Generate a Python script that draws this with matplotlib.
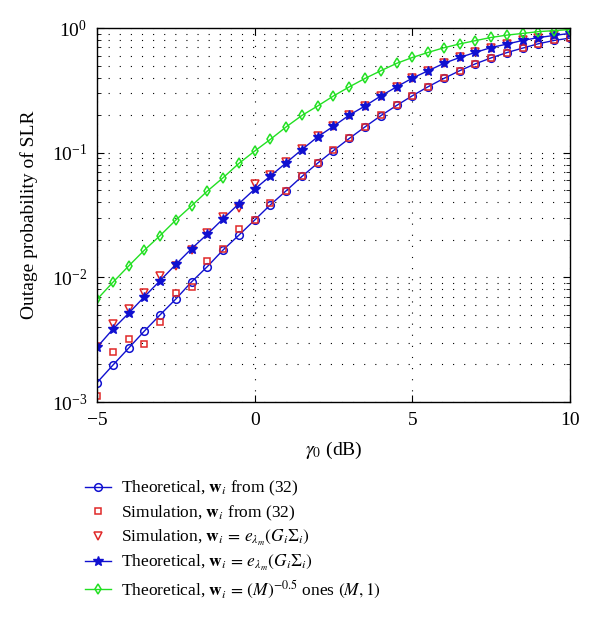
import numpy as np
import matplotlib
matplotlib.use('Agg')
import matplotlib.pyplot as plt
from matplotlib.ticker import LogLocator, FixedLocator

plt.rcParams['font.family'] = ['Liberation Serif', 'DejaVu Serif']
plt.rcParams['mathtext.fontset'] = 'stix'
plt.rcParams['font.size'] = 13

# SNR grid (dB)
gamma0 = [-5, -4.5, -4, -3.5, -3, -2.5, -2, -1.5, -1, -0.5, 0, 0.5, 1, 1.5, 2, 2.5,
          3, 3.5, 4, 4.5, 5, 5.5, 6, 6.5, 7, 7.5, 8, 8.5, 9, 9.5, 10]

# theoretical, w_i from (32)
theo_32 = [1.43e-3, 1.97e-3, 2.70e-3, 3.70e-3, 5.00e-3, 6.70e-3, 9.20e-3, 1.22e-2,
           1.66e-2, 2.18e-2, 2.88e-2, 3.82e-2, 4.95e-2, 6.45e-2, 8.25e-2, 0.104,
           0.130, 0.161, 0.198, 0.239, 0.286, 0.338, 0.394, 0.454, 0.516, 0.576,
           0.635, 0.690, 0.748, 0.795, 0.830]

# simulation, w_i from (32)
sim_32 = [1.12e-3, 2.53e-3, 3.20e-3, 2.92e-3, 4.41e-3, 7.45e-3, 8.30e-3, 1.36e-2,
          1.69e-2, 2.45e-2, 2.88e-2, 3.96e-2, 4.90e-2, 6.50e-2, 8.30e-2, 0.105,
          0.131, 0.160, 0.199, 0.240, 0.287, 0.337, 0.395, 0.455, 0.515, 0.577,
          0.636, 0.688, 0.750, 0.797, 0.832]

# simulation, w_i = e_lambda_m
sim_eig = [2.75e-3, 4.20e-3, 5.53e-3, 7.45e-3, 1.02e-2, 1.23e-2, 1.66e-2, 2.25e-2,
           3.06e-2, 3.57e-2, 5.60e-2, 6.60e-2, 8.40e-2, 0.107, 0.135, 0.163,
           0.201, 0.238, 0.286, 0.338, 0.397, 0.455, 0.520, 0.582, 0.638, 0.697,
           0.745, 0.795, 0.838, 0.872, 0.905]

# theoretical, w_i = e_lambda_m
theo_eig = [2.75e-3, 3.83e-3, 5.14e-3, 6.98e-3, 9.40e-3, 1.27e-2, 1.70e-2, 2.22e-2,
            2.95e-2, 3.90e-2, 5.10e-2, 6.50e-2, 8.30e-2, 0.106, 0.134, 0.163,
            0.200, 0.237, 0.285, 0.337, 0.396, 0.454, 0.520, 0.580, 0.637, 0.697,
            0.743, 0.795, 0.838, 0.872, 0.905]

# theoretical, w_i = (M)^-0.5 ones(M,1)
theo_ones = [6.65e-3, 9.10e-3, 1.23e-2, 1.65e-2, 2.16e-2, 2.88e-2, 3.75e-2, 4.92e-2,
             6.30e-2, 8.20e-2, 0.103, 0.128, 0.161, 0.199, 0.237, 0.285,
             0.337, 0.394, 0.454, 0.520, 0.580, 0.637, 0.694, 0.745, 0.792, 0.840,
             0.877, 0.905, 0.935, 0.953, 0.972]

blue = '#1010d0'
red = '#e02828'
green = '#22e022'

fig = plt.figure(figsize=(6.0, 6.17), dpi=100)
ax = fig.add_axes([97 / 600, 1 - 402 / 617, 473 / 600, 374 / 617])

ax.plot(gamma0, theo_32, '-o', color=blue, lw=1.0, ms=5.5, mfc='none', mew=1.1,
        label=r'Theoretical, $\mathbf{w}_i$ from (32)')
ax.plot(gamma0, sim_32, 's', color=red, ms=5, mfc='none', mew=1.1, ls='none',
        label=r'Simulation, $\mathbf{w}_i$ from (32)')
ax.plot(gamma0, sim_eig, 'v', color=red, ms=6, mfc='none', mew=1.1, ls='none',
        label=r'Simulation, $\mathbf{w}_i\,=\,e_{\lambda_m}(G_i\Sigma_i)$')
ax.plot(gamma0, theo_eig, '-*', color=blue, lw=1.0, ms=7,
        label=r'Theoretical, $\mathbf{w}_i\,=\,e_{\lambda_m}(G_i\Sigma_i)$')
ax.plot(gamma0, theo_ones, '-d', color=green, lw=1.0, ms=5.5, mfc='none', mew=1.1,
        label=r'Theoretical, $\mathbf{w}_i\,=\,(M)^{-0.5}$ ones $(M,1)$')

ax.set_yscale('log')
ax.set_xlim(-5, 10)
ax.set_ylim(1e-3, 1)
ax.xaxis.set_major_locator(FixedLocator([-5, 0, 5, 10]))
ax.yaxis.set_major_locator(LogLocator(base=10, numticks=10))
ax.yaxis.set_minor_locator(LogLocator(base=10, subs=np.arange(2, 10), numticks=10))

dots = (0, (1, 9))
ax.grid(True, which='major', axis='both', color='black', lw=0.8, ls=dots)
ax.grid(True, which='minor', axis='y', color='black', lw=0.8, ls=dots)

ax.tick_params(which='both', direction='in', top=True, right=True)
ax.tick_params(which='major', length=5, pad=7, labelsize=14)
ax.tick_params(which='minor', length=3)
for s in ax.spines.values():
    s.set_linewidth(1.0)

ax.set_xlabel(r'$\gamma_0$ (dB)', fontsize=14)
ax.set_ylabel('Outage probability of SLR', fontsize=14)
ax.xaxis.set_label_coords(0.5, -0.1)
ax.yaxis.set_label_coords(-0.125, 0.5)

fig.legend(loc='upper left', bbox_to_anchor=(85 / 600, 1 - 479 / 617), frameon=False,
           borderpad=0, borderaxespad=0, handlelength=1.5, handletextpad=0.6,
           labelspacing=0.3, fontsize=12.5)

fig.savefig('out.png', dpi=100)
